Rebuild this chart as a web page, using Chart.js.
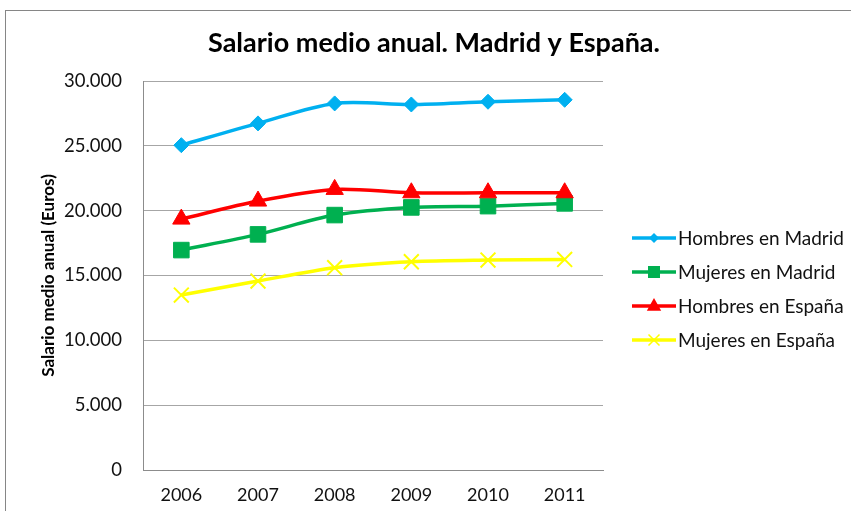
<!DOCTYPE html>
<html>
<head>
<meta charset="utf-8">
<title>Salario medio anual. Madrid y España.</title>
<script src="https://cdn.jsdelivr.net/npm/chart.js@4.4.0/dist/chart.umd.min.js"></script>
<style>
  html, body { margin: 0; padding: 0; background: #fff; overflow: hidden; }
  #wrap { position: relative; width: 851px; height: 511px; }
</style>
</head>
<body>
<div id="wrap"><canvas id="chart" width="851" height="511"></canvas></div>
<script>
// values (euros)
const years = ['2006', '2007', '2008', '2009', '2010', '2011'];
const hombresMadrid = [25050, 26730, 28270, 28190, 28400, 28550];
const mujeresMadrid = [16960, 18170, 19660, 20250, 20350, 20560];
const hombresEspana = [19350, 20740, 21640, 21380, 21380, 21380];
const mujeresEspana = [13490, 14570, 15600, 16060, 16190, 16240];
const seriesNames = ['Hombres en Madrid', 'Mujeres en Madrid', 'Hombres en España', 'Mujeres en España'];
const yMin = 0, yMax = 30000, yStep = 5000;

const chartTitle = 'Salario medio anual. Madrid y España.';
const yTitle = 'Salario medio anual (Euros)';

const FONT = 'Lato, "Open Sans", sans-serif';
const colors = ['#00B0F0', '#00B050', '#FF0000', '#FFFF00'];
const styles = ['rectRot', 'rect', 'triangle', 'crossRot'];
const radii = [7.5, 11, 10, 10.5];

function fmt(v) {
  return String(v).replace(/\B(?=(\d{3})+(?!\d))/g, '.');
}

// small marker drawer for the legend
function drawMarker(ctx, style, x, y, r, color) {
  ctx.save();
  ctx.fillStyle = color;
  ctx.strokeStyle = color;
  ctx.beginPath();
  if (style === 'rectRot') {
    ctx.moveTo(x - r, y); ctx.lineTo(x, y - r); ctx.lineTo(x + r, y); ctx.lineTo(x, y + r);
    ctx.closePath(); ctx.fill();
  } else if (style === 'rect') {
    ctx.rect(x - r, y - r, 2 * r, 2 * r); ctx.fill();
  } else if (style === 'triangle') {
    ctx.moveTo(x, y - r); ctx.lineTo(x + r * 0.9, y + r * 0.6); ctx.lineTo(x - r * 0.9, y + r * 0.6);
    ctx.closePath(); ctx.fill();
  } else {
    ctx.lineWidth = 1.5;
    ctx.moveTo(x - r, y - r); ctx.lineTo(x + r, y + r);
    ctx.moveTo(x + r, y - r); ctx.lineTo(x - r, y + r);
    ctx.stroke();
  }
  ctx.restore();
}

const decor = {
  id: 'decor',
  beforeDraw(chart) {
    const ctx = chart.ctx;
    ctx.save();
    ctx.fillStyle = '#fff';
    ctx.fillRect(0, 0, chart.width, chart.height);
    ctx.strokeStyle = '#868686';
    ctx.lineWidth = 1;
    ctx.strokeRect(5.5, 10.5, chart.width + 40, chart.height + 40);
    ctx.restore();
  },
  afterDraw(chart) {
    const ctx = chart.ctx;
    ctx.save();
    // title
    ctx.fillStyle = '#000';
    ctx.font = 'bold 27px ' + FONT;
    ctx.textAlign = 'center';
    ctx.textBaseline = 'middle';
    ctx.fillText(chartTitle, 434, 43);
    // legend
    ctx.font = '19px ' + FONT;
    ctx.textAlign = 'left';
    const legendMarks = [5, 6, 8, 5.5];
    seriesNames.forEach((name, i) => {
      const y = 238 + i * 34;
      ctx.strokeStyle = colors[i];
      ctx.lineWidth = 3.5;
      ctx.beginPath();
      ctx.moveTo(632, y);
      ctx.lineTo(676, y);
      ctx.stroke();
      drawMarker(ctx, styles[i], 654, y, legendMarks[i], colors[i]);
      ctx.fillStyle = '#111';
      ctx.fillText(name, 678, y + 1);
    });
    ctx.restore();
  }
};

const allSeries = [hombresMadrid, mujeresMadrid, hombresEspana, mujeresEspana];
const datasets = allSeries.map((data, i) => ({
  label: seriesNames[i],
  data: data,
  borderColor: colors[i],
  backgroundColor: colors[i],
  borderWidth: 3.5,
  tension: 0.3,
  pointStyle: styles[i],
  pointRadius: radii[i],
  pointHoverRadius: radii[i],
  pointBackgroundColor: colors[i],
  pointBorderColor: colors[i],
  pointBorderWidth: styles[i] === 'crossRot' ? 2 : 1,
  order: 4 - i
}));

new Chart(document.getElementById('chart'), {
  type: 'line',
  data: { labels: years, datasets: datasets },
  options: {
    responsive: false,
    animation: false,
    devicePixelRatio: 1,
    layout: { padding: { left: 0, top: 81, right: 248, bottom: 0 } },
    plugins: {
      legend: { display: false },
      title: { display: false },
      tooltip: { enabled: false }
    },
    scales: {
      x: {
        offset: true,
        grid: { display: false, drawTicks: false },
        border: { display: true, color: '#8c8c8c', width: 1 },
        ticks: { color: '#111', font: { family: FONT, size: 18 }, padding: 14 },
        afterFit(scale) { scale.height = 41; }
      },
      y: {
        min: yMin,
        max: yMax,
        grid: { color: '#a6a6a6', lineWidth: 1, drawTicks: false },
        border: { display: true, color: '#8c8c8c', width: 1 },
        ticks: {
          stepSize: yStep,
          color: '#111',
          padding: 21,
          font: { family: FONT, size: 18.5 },
          callback: v => fmt(v)
        },
        title: {
          display: true,
          text: yTitle,
          color: '#000',
          font: { family: FONT, size: 17, weight: 'bold' },
          padding: { top: 38, bottom: 0 }
        },
        afterFit(scale) { scale.width = 143; }
      }
    }
  },
  plugins: [decor]
});
</script>
</body>
</html>
